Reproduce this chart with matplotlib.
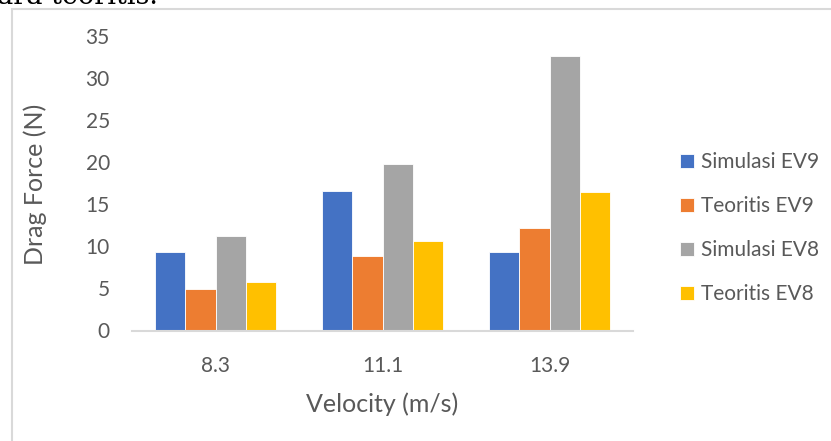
import numpy as np
import matplotlib
matplotlib.use("Agg")
import matplotlib.pyplot as plt
from matplotlib.patches import Rectangle

# Data
kecepatan = ["8.3", "11.1", "13.9"]
simulasi_ev9 = [9.3, 16.6, 9.3]
teoritis_ev9 = [4.9, 8.9, 12.2]
simulasi_ev8 = [11.2, 19.8, 32.7]
teoritis_ev8 = [5.8, 10.6, 16.5]

seri = [simulasi_ev9, teoritis_ev9, simulasi_ev8, teoritis_ev8]
nama_seri = ["Simulasi EV9", "Teoritis EV9", "Simulasi EV8", "Teoritis EV8"]
warna = ["#4472C4", "#ED7D31", "#A5A5A5", "#FFC000"]

teks = "#595959"
plt.rcParams["font.family"] = ["Lato", "DejaVu Sans"]

W, H = 831, 441
fig = plt.figure(figsize=(W / 100, H / 100), dpi=100)
ax = fig.add_axes([132 / W, (H - 330.5) / H, 501 / W, 294 / H])

x = np.arange(len(kecepatan))
lebar = 0.182
for i, (nilai, nama, c) in enumerate(zip(seri, nama_seri, warna)):
    ax.bar(x + (i - 1.5) * lebar, nilai, lebar, color=c, label=nama,
           edgecolor="white", linewidth=0.6)

ax.set_xlim(-0.5, 2.5)
ax.set_ylim(0, 35)
ax.set_yticks(range(0, 36, 5))
ax.set_xticks(x)
ax.set_xticklabels(kecepatan)

for s in ["top", "right", "left"]:
    ax.spines[s].set_visible(False)
ax.spines["bottom"].set_color("#d9d9d9")
ax.spines["bottom"].set_linewidth(1.5)
ax.tick_params(length=0, labelsize=15, labelcolor=teks)
ax.tick_params(axis="y", pad=16)
ax.tick_params(axis="x", pad=18)

ax.set_xlabel("Velocity (m/s)", fontsize=18, color=teks)
ax.set_ylabel("Drag Force (N)", fontsize=18, color=teks)
ax.xaxis.set_label_coords(0.5, (330.5 - 392) / 294)
ax.yaxis.set_label_coords((47 - 132) / 501, (330.5 - 184) / 294)

ax.legend(loc="center left", bbox_to_anchor=(672 / W, 1 - 228 / H),
          bbox_transform=fig.transFigure, frameon=False, fontsize=15,
          labelcolor=teks, handlelength=0.65, handleheight=0.65,
          handletextpad=0.35, labelspacing=1.15, borderaxespad=0)

# bingkai grafik dan potongan teks di atasnya
fig.add_artist(Rectangle((12 / W, -0.1), 1.2, 1.1 - 9 / H,
                         transform=fig.transFigure, fill=False,
                         edgecolor="#d9d9d9", linewidth=1.5))
fig.text(-3 / W, 1 - 4.5 / H, "ara teoritis.", family="DejaVu Serif",
         fontsize=19.5, color="black", va="baseline", ha="left")

fig.savefig("out.png", dpi=100, facecolor="white")
